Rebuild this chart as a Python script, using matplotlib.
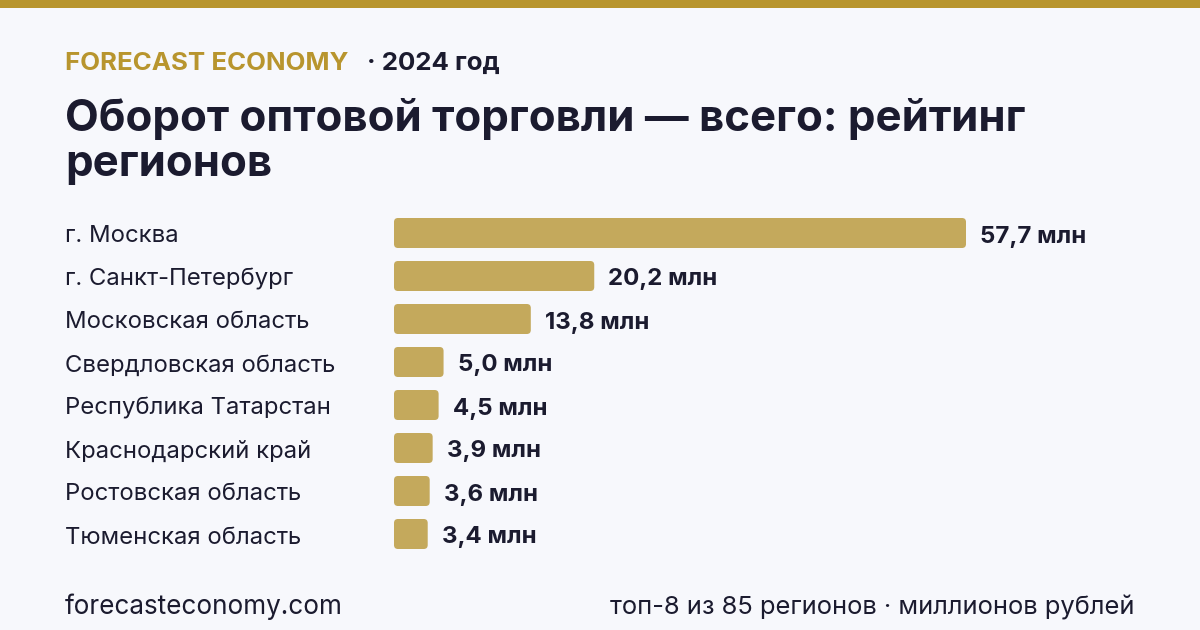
import matplotlib.pyplot as plt
from matplotlib.patches import FancyBboxPatch, Rectangle
import matplotlib.transforms as mtransforms

# Data
regions = [
    "г. Москва",
    "г. Санкт-Петербург",
    "Московская область",
    "Свердловская область",
    "Республика Татарстан",
    "Краснодарский край",
    "Ростовская область",
    "Тюменская область",
]
values = [57.7, 20.2, 13.8, 5.0, 4.5, 3.9, 3.6, 3.4]

BG = "#f7f8fc"
GOLD = "#b8952e"
BAR = "#c4a95c"
DARK = "#1b1b2f"

plt.rcParams["font.family"] = ["Inter", "DejaVu Sans"]

fig = plt.figure(figsize=(12, 6.3), dpi=100, facecolor=BG)

# Background layer in pixel coordinates for layout
bg = fig.add_axes([0, 0, 1, 1])
bg.set_xlim(0, 1200)
bg.set_ylim(630, 0)
bg.axis("off")
bg.add_patch(Rectangle((0, 0), 1200, 8, color=GOLD, lw=0))

bg.text(65, 70, "FORECAST ECONOMY", color=GOLD, fontsize=18.6, fontweight="bold", va="baseline")
bg.text(367, 70, "· 2024 год", color=DARK, fontsize=18.6, fontweight="bold", va="baseline")
bg.text(65, 131, "Оборот оптовой торговли — всего: рейтинг", color=DARK,
        fontsize=31.5, fontweight="bold", va="baseline")
bg.text(65, 176, "регионов", color=DARK, fontsize=31.5, fontweight="bold", va="baseline")

bg.text(65, 614, "forecasteconomy.com", color=DARK, fontsize=18.8, va="baseline")
bg.text(1135, 614, "топ-8 из 85 регионов · миллионов рублей", color=DARK, fontsize=18.4,
        va="baseline", ha="right")

# Bar axes: x from 394px, 57.7 ends at 966px; rows 43px apart starting at 233px
left, right = 394, 966
top, bottom = 233 - 21.5, 534 + 21.5
ax = fig.add_axes([left / 1200, 1 - bottom / 630, (right - left) / 1200, (bottom - top) / 630])
ax.set_xlim(0, values[0])
ax.set_ylim(len(values) - 0.5, -0.5)
ax.axis("off")

px_x = values[0] / (right - left)   # data units per pixel in x
px_y = 1 / 43                       # data units per pixel in y
bar_h = 30 * px_y
r = 4 * px_x
base = 9.5 * px_y                   # text baseline below bar centre
for i, v in enumerate(values):
    ax.add_patch(FancyBboxPatch((0, i - bar_h / 2), v, bar_h,
                                boxstyle=f"round,pad=0,rounding_size={r}",
                                mutation_aspect=px_y / px_x,
                                facecolor=BAR, edgecolor="none"))
    label = f"{v:.1f}".replace(".", ",") + " млн"
    ax.text(v + 14 * px_x, i + base, label, color=DARK, fontsize=17.3, fontweight="bold",
            va="baseline", ha="left")

trans = mtransforms.blended_transform_factory(bg.transData, ax.transData)
for i, name in enumerate(regions):
    ax.text(65, i + base, name, transform=trans, color=DARK, fontsize=17.2,
            va="baseline", ha="left")

fig.savefig("out.png", dpi=100, facecolor=BG)
